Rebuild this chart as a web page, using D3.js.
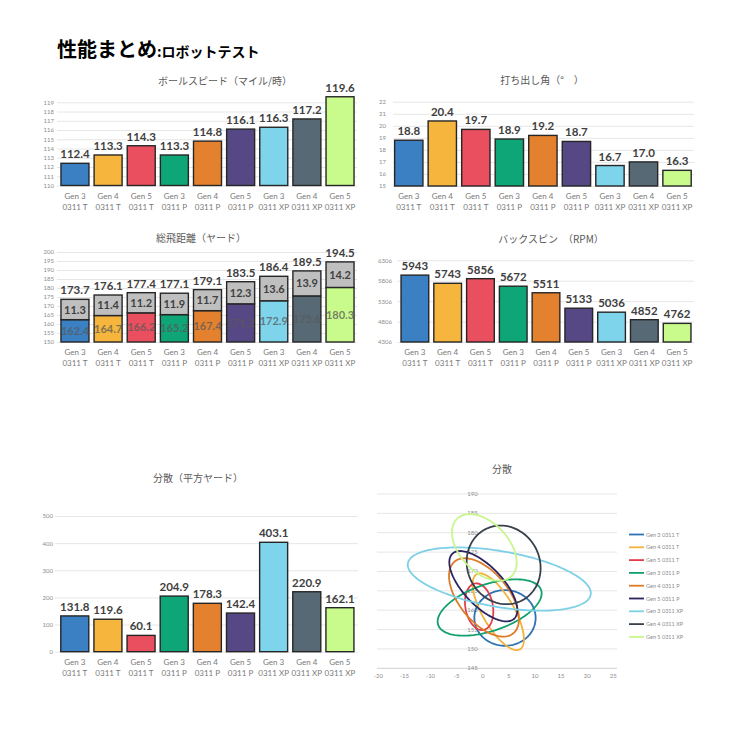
<!DOCTYPE html>
<html>
<head>
<meta charset="utf-8">
<script src="https://cdn.jsdelivr.net/npm/d3@7"></script>
<style>
  body { margin: 0; background: #fff; }
  text { font-family: Lato, "Noto Sans", sans-serif; }
  .jp { font-family: "Noto Sans CJK JP", sans-serif; }
</style>
</head>
<body>
<script>
// categories
const gens = ["Gen 3", "Gen 4", "Gen 5", "Gen 3", "Gen 4", "Gen 5", "Gen 3", "Gen 4", "Gen 5"];
const models = ["0311 T", "0311 T", "0311 T", "0311 P", "0311 P", "0311 P", "0311 XP", "0311 XP", "0311 XP"];
const colors = ["#3a80c3", "#f6b53c", "#e94f5e", "#0ea577", "#e3812e", "#564884", "#7dd4eb", "#566975", "#c9fb8c"];
const lineColors = ["#2e72b3", "#f3b23a", "#e23d4a", "#12a06c", "#de7b28", "#2a2560", "#7dd0e6", "#38414c", "#c8f68c"];

// series values
const ballSpeed = [112.4, 113.3, 114.3, 113.3, 114.8, 116.1, 116.3, 117.2, 119.6];
const launchAngle = [18.8, 20.4, 19.7, 18.9, 19.2, 18.7, 16.7, 17.0, 16.3];
const carry = [162.4, 164.7, 166.2, 165.2, 167.4, 171.2, 172.9, 175.6, 180.3];
const run = [11.3, 11.4, 11.2, 11.9, 11.7, 12.3, 13.6, 13.9, 14.2];
const totalDistance = [173.7, 176.1, 177.4, 177.1, 179.1, 183.5, 186.4, 189.5, 194.5];
const backspin = [5943, 5743, 5856, 5672, 5511, 5133, 5036, 4852, 4762];
const dispersion = [131.8, 119.6, 60.1, 204.9, 178.3, 142.4, 403.1, 220.9, 162.1];

// dispersion ellipses: centre, half spread in x / y, correlation
const ellCx = [4.26, 2.98, -0.69, 1.32, 0.24, 0.11, 3.17, 4.0, 0.3];
const ellCy = [158.0, 159.6, 160.9, 160.7, 163.3, 166.2, 168.05, 171.7, 176.2];
const ellSx = [5.87, 4.91, 2.71, 9.96, 6.7, 6.51, 17.53, 7.08, 6.19];
const ellSy = [7.19, 9.9, 6.02, 7.27, 10.11, 9.08, 8.17, 10.15, 8.6];
const ellRho = [0.0, -0.72, -0.2, 0.5, -0.55, -0.68, -0.45, -0.08, -0.45];

// tick labels
const speedTicks = [110, 111, 112, 113, 114, 115, 116, 117, 118, 119];
const angleTicks = [15, 16, 17, 18, 19, 20, 21, 22];
const distTicks = [150, 155, 160, 165, 170, 175, 180, 185, 190, 195, 200];
const spinTicks = [4306, 4806, 5306, 5806, 6306];
const dispTicks = [0, 100, 200, 300, 400, 500];
const scatterXTicks = [-20, -15, -10, -5, 0, 5, 10, 15, 20, 25];
const scatterYTicks = [145, 150, 155, 160, 165, 170, 175, 180, 185, 190];

const svg = d3.select("body").append("svg").attr("width", 730).attr("height", 730);

// page title
const head = svg.append("text").attr("class", "jp").attr("x", 57).attr("y", 57)
  .attr("font-weight", "bold").attr("fill", "#000");
head.append("tspan").attr("font-size", 20).text("性能まとめ");
head.append("tspan").attr("font-size", 14).text(":ロボットテスト");

function barChart(cfg) {
  const g = svg.append("g");
  const x = d3.scaleBand().domain(d3.range(gens.length)).range(cfg.xRange)
    .paddingInner(0.155).paddingOuter(0.0775);
  const y = d3.scaleLinear().domain(cfg.yDomain).range(cfg.yRange);

  // gridlines + tick labels
  const axis = d3.axisLeft(y).tickValues(cfg.ticks).tickFormat(d => String(d))
    .tickSize(-(cfg.gridX[1] - cfg.gridX[0])).tickPadding(cfg.pad);
  const ag = g.append("g").attr("transform", "translate(" + cfg.gridX[0] + ",0)").call(axis);
  ag.select(".domain").remove();
  ag.selectAll("line").attr("stroke", "#e6e6e6");
  ag.selectAll("text").attr("fill", "#8c8c8c").attr("font-size", 6)
    .style("font-family", "Lato, sans-serif");

  g.append("text").attr("class", "jp").attr("x", cfg.titleX).attr("y", cfg.titleY)
    .attr("text-anchor", "middle").attr("font-size", 10).attr("fill", "#595959")
    .text(cfg.title);

  const base = cfg.yDomain[0];
  g.selectAll(".bar").data(cfg.values).join("rect")
    .attr("x", (d, i) => x(i)).attr("width", x.bandwidth())
    .attr("y", d => y(d)).attr("height", d => y(base) - y(d))
    .attr("fill", (d, i) => colors[i]).attr("stroke", "#262626").attr("stroke-width", 1.4);

  if (cfg.stack) {
    g.selectAll(".run").data(cfg.stack).join("rect")
      .attr("x", (d, i) => x(i)).attr("width", x.bandwidth())
      .attr("y", (d, i) => y(cfg.values[i] + d))
      .attr("height", (d, i) => y(cfg.values[i]) - y(cfg.values[i] + d))
      .attr("fill", "#bfbfbf").attr("stroke", "#262626").attr("stroke-width", 1.4);
    g.selectAll(".inLab").data(cfg.values).join("text")
      .attr("x", (d, i) => x(i) + x.bandwidth() / 2)
      .attr("y", d => (y(d) + y(base)) / 2 + 4)
      .attr("text-anchor", "middle").attr("font-size", 11).attr("font-weight", "bold")
      .attr("fill", "#595959").attr("fill-opacity", 0.75).text(d => d.toFixed(1));
    g.selectAll(".runLab").data(cfg.stack).join("text")
      .attr("x", (d, i) => x(i) + x.bandwidth() / 2)
      .attr("y", (d, i) => (y(cfg.values[i]) + y(cfg.values[i] + d)) / 2 + 4)
      .attr("text-anchor", "middle").attr("font-size", 11).attr("font-weight", "bold")
      .attr("fill", "#404040").text(d => d.toFixed(1));
  }

  const tops = cfg.totals || cfg.values;
  g.selectAll(".val").data(tops).join("text")
    .attr("x", (d, i) => x(i) + x.bandwidth() / 2)
    .attr("y", (d, i) => y(cfg.stack ? cfg.values[i] + cfg.stack[i] : d) - 5)
    .attr("text-anchor", "middle").attr("font-size", 11.5).attr("font-weight", "bold")
    .attr("fill", "#404040").text(d => cfg.fmt(d));

  const cat = g.selectAll(".cat").data(gens).join("text")
    .attr("text-anchor", "middle").attr("font-size", 8).attr("fill", "#7a7a7a");
  cat.append("tspan").attr("x", (d, i) => x(i) + x.bandwidth() / 2)
    .attr("y", y(base) + 13).text(d => d);
  cat.append("tspan").attr("x", (d, i) => x(i) + x.bandwidth() / 2)
    .attr("y", y(base) + 24).text((d, i) => models[i]);
}

const one = d => d.toFixed(1);

barChart({ values: ballSpeed, ticks: speedTicks, yDomain: [110, 119], yRange: [185.5, 102.3],
  xRange: [58.4, 356.6], gridX: [57, 357], pad: 3, fmt: one,
  title: "ボールスピード（マイル/時）", titleX: 225, titleY: 85 });

barChart({ values: launchAngle, ticks: angleTicks, yDomain: [15, 22], yRange: [186, 101.7],
  xRange: [392, 693.8], gridX: [393, 694], pad: 7, fmt: one,
  title: "打ち出し角（°　）", titleX: 542, titleY: 84 });

barChart({ values: carry, stack: run, totals: totalDistance, ticks: distTicks,
  yDomain: [150, 200], yRange: [342, 252], xRange: [58.4, 356.6], gridX: [57, 357], pad: 3,
  fmt: one, title: "総飛距離（ヤード）", titleX: 201, titleY: 242 });

barChart({ values: backspin, ticks: spinTicks, yDomain: [4306, 6306], yRange: [342, 260.3],
  xRange: [398.5, 693.5], gridX: [397, 694], pad: 5, fmt: d => String(d),
  title: "バックスピン　（RPM）", titleX: 551, titleY: 242.5 });

barChart({ values: dispersion, ticks: dispTicks, yDomain: [0, 500], yRange: [651.7, 516],
  xRange: [58.2, 356.5], gridX: [55, 358], pad: 2, fmt: one,
  title: "分散（平方ヤード）", titleX: 198, titleY: 482 });

// dispersion ellipse chart
const sx = d3.scaleLinear().domain([-20, 25]).range([378.3, 613.3]);
const sy = d3.scaleLinear().domain([145, 190]).range([668.3, 494]);
const sg = svg.append("g");

sg.selectAll(".hg").data(scatterYTicks).join("line")
  .attr("x1", 377).attr("x2", 617).attr("y1", d => sy(d)).attr("y2", d => sy(d))
  .attr("stroke", d => d === 145 ? "#d0d0d0" : "#e6e6e6");
sg.selectAll(".yl").data(scatterYTicks).join("text")
  .attr("x", sx(0) - 5).attr("y", d => sy(d) + 2).attr("text-anchor", "end")
  .attr("font-size", 6).attr("fill", "#8c8c8c").text(d => d);
sg.selectAll(".xl").data(scatterXTicks).join("text")
  .attr("x", d => sx(d)).attr("y", 678).attr("text-anchor", "middle")
  .attr("font-size", 6).attr("fill", "#8c8c8c").text(d => d);
sg.append("text").attr("class", "jp").attr("x", 502).attr("y", 473)
  .attr("text-anchor", "middle").attr("font-size", 10).attr("fill", "#595959").text("分散");

const angles = d3.range(0, 2 * Math.PI, Math.PI / 60);
const ellLine = d3.line().curve(d3.curveLinearClosed);
sg.selectAll(".ell").data(ellCx).join("path")
  .attr("d", (c, i) => ellLine(angles.map(t => [
    sx(c + ellSx[i] * Math.cos(t)),
    sy(ellCy[i] + ellSy[i] * (ellRho[i] * Math.cos(t) + Math.sqrt(1 - ellRho[i] * ellRho[i]) * Math.sin(t)))
  ])))
  .attr("fill", "none").attr("stroke", (d, i) => lineColors[i]).attr("stroke-width", 1.8);

// legend
const lg = sg.selectAll(".lg").data(gens).join("g")
  .attr("transform", (d, i) => "translate(629," + (534.5 + i * 12.8) + ")");
lg.append("line").attr("x1", 0).attr("x2", 15).attr("stroke", (d, i) => lineColors[i]).attr("stroke-width", 1.8);
lg.append("text").attr("x", 17).attr("y", 2).attr("font-size", 5.5).attr("fill", "#8c8c8c")
  .text((d, i) => d + " " + models[i]);
</script>
</body>
</html>
